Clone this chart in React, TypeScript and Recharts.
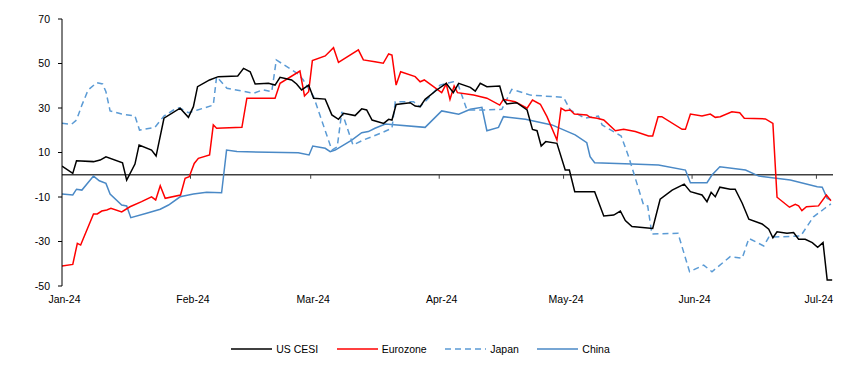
import React from "react";
import { LineChart, Line, XAxis, YAxis, ReferenceLine, Legend } from "recharts";

// x positions are days since 1 Jan 2024
const monthTicks = [0, 31, 60, 91, 121, 152, 182];
const monthLabels = ["Jan-24", "Feb-24", "Mar-24", "Apr-24", "May-24", "Jun-24", "Jul-24"];
const yTicks = [-50, -30, -10, 10, 30, 50, 70];

const usDays = [0, 2.6, 3.5, 7.6, 9.2, 10.6, 14.6, 15.6, 17.6, 18.6, 21.6, 22.7, 24.6, 28.5, 30.5, 31.7, 32.7, 35.6, 37.7, 42.4, 43.8, 45.4, 46.6, 49.8, 51.4, 52.6, 55.4, 56.6, 57.8, 59.5, 60.7, 63.5, 65.1, 66.7, 67.9, 70.7, 72.3, 73.5, 74.8, 77.6, 78.8, 79.6, 80.6, 84, 85.2, 86.4, 87.6, 90.4, 92.7, 94.4, 95.7, 98.5, 99.7, 100.9, 102.5, 105.6, 106.5, 107.3, 109.7, 112.2, 113.5, 114.6, 115.6, 116.7, 119.4, 121.4, 122.4, 123.7, 128.5, 130.7, 133.1, 134.7, 135.9, 137.5, 142.5, 144.3, 147.2, 150.1, 151.6, 154.4, 155.6, 156.6, 157.6, 158.7, 161.2, 162.4, 164.1, 165.7, 168.9, 170.5, 171.5, 172.5, 174.9, 176.5, 177.7, 179.3, 181, 182.3, 183.6, 184.6, 185.8];
const usValues = [3.9, 0.6, 6.3, 5.9, 6.6, 8.1, 5.4, -2.4, 4.8, 13.4, 11.1, 8.4, 25.4, 29.9, 25.8, 30.6, 39.6, 42.6, 44.1, 44.4, 47.8, 46.3, 40.8, 41.1, 40.3, 43.8, 42.6, 40.8, 38.1, 40.3, 34.4, 34.0, 26.9, 24.9, 27.6, 26.6, 29.6, 29.1, 24.6, 23.1, 24.9, 24.6, 31.6, 32.4, 30.9, 30.6, 33.9, 38.1, 41.1, 36.9, 41.1, 39.3, 37.6, 41.1, 39.6, 39.9, 33.9, 31.8, 32.4, 29.1, 20.4, 19.8, 12.9, 14.9, 14.1, 2.1, 2.1, -7.6, -7.6, -18.5, -18.1, -16.3, -20.6, -23.3, -24.1, -11.0, -6.9, -4.2, -7.6, -9.1, -12.1, -7.9, -9.9, -5.6, -6.5, -6.5, -12.8, -20.0, -22.1, -24.5, -28.3, -25.6, -26.3, -26.0, -29.0, -29.0, -30.5, -32.6, -30.5, -47.3, -47.3];

const euDays = [0, 2.6, 3.7, 4.5, 7.6, 8.5, 9.6, 10.8, 11.8, 14.4, 16.4, 19.2, 21.6, 22.6, 23.7, 24.9, 28.6, 29.7, 30.7, 31.9, 32.9, 35.6, 36.5, 37.3, 43.4, 44.6, 51.4, 52.6, 57.4, 58.5, 59.5, 60.4, 63.5, 65.5, 66.7, 71.5, 72.7, 75.5, 77.5, 78.8, 79.6, 80.6, 81.7, 85.2, 86.4, 87.4, 91.6, 92.7, 93.6, 94.6, 95.4, 99.3, 102.5, 105.6, 106.5, 109.3, 112.2, 113.5, 115.4, 117, 119.4, 120.4, 121.4, 122.6, 123.6, 126.6, 127.4, 129.1, 130.7, 133.5, 135.5, 138.3, 141.5, 142.5, 143.8, 144.7, 149.6, 150.4, 151.6, 154.4, 156.4, 157.6, 158.8, 161.6, 163.5, 164.6, 169.7, 171.5, 172.5, 175.5, 176.9, 177.7, 178.5, 179.6, 182.5, 184.4, 185.5];
const euValues = [-41.0, -40.3, -30.8, -31.6, -17.6, -17.6, -16.3, -15.8, -15.1, -16.7, -14.4, -12.1, -9.9, -11.3, -4.9, -10.6, -9.1, -1.6, -0.9, 5.1, 7.4, 8.9, 22.4, 20.9, 21.3, 34.4, 34.4, 41.1, 46.6, 35.4, 37.3, 51.3, 53.4, 57.1, 50.5, 56.1, 51.6, 50.8, 50.1, 54.3, 53.8, 40.3, 46.3, 44.1, 41.8, 42.6, 36.9, 40.8, 33.9, 39.9, 36.9, 35.8, 34.4, 31.3, 33.9, 32.8, 29.9, 33.6, 31.7, 26.1, 15.6, 29.9, 28.8, 29.1, 27.3, 26.9, 25.8, 25.4, 24.6, 19.8, 20.4, 19.4, 17.4, 17.4, 26.1, 26.1, 20.4, 20.4, 27.3, 26.4, 27.3, 25.8, 26.1, 28.3, 27.9, 25.4, 25.1, 23.1, -10.1, -14.6, -13.3, -14.0, -16.1, -14.4, -14.0, -9.1, -11.7];

const jpDays = [0, 2.3, 3.5, 4.8, 6.3, 8.4, 9.8, 10.6, 11.6, 14.4, 17.6, 18.7, 22.4, 24.6, 26.9, 28.3, 30.5, 32.7, 36.5, 37.3, 39.8, 46.2, 48.5, 50.6, 51.7, 57, 58.2, 60.7, 65.1, 66.4, 67.5, 70.2, 72.7, 76.8, 79.6, 80.4, 84.8, 86.4, 88.4, 91.2, 94.4, 95.6, 97.7, 102.1, 106.1, 108.5, 113, 121, 122.6, 126.2, 129.4, 130.3, 134.9, 136.7, 140.3, 141.3, 142.3, 148.6, 151.4, 154.8, 156.8, 161.2, 164.1, 165.7, 169.3, 170.5, 178.2, 181.3, 183.8, 185.5];
const jpValues = [23.1, 22.7, 24.6, 31.3, 38.1, 41.4, 40.8, 37.3, 28.7, 27.3, 26.4, 20.1, 21.3, 26.4, 29.1, 30.1, 27.9, 29.1, 31.3, 44.1, 38.9, 36.6, 38.2, 37.3, 51.6, 45.3, 42.6, 35.1, 11.1, 12.6, 28.3, 13.4, 15.6, 18.6, 20.9, 32.8, 32.8, 30.6, 34.4, 40.3, 41.8, 40.3, 29.1, 29.1, 29.4, 38.4, 35.8, 34.8, 29.1, 25.4, 26.4, 22.4, 17.4, 8.1, -13.6, -14.0, -26.6, -26.3, -43.6, -40.6, -43.6, -36.8, -37.5, -28.6, -32.0, -28.1, -27.5, -18.9, -15.4, -13.1];

const cnDays = [0, 2.6, 3.5, 4.8, 7.6, 9, 10.6, 11.6, 14.4, 15.6, 16.6, 20.4, 23.7, 25.7, 28.5, 31.7, 34.9, 38.5, 39.7, 42.2, 57, 59.6, 60.5, 63.5, 64.7, 65.9, 69.9, 72.3, 73.9, 75.5, 78, 87.6, 91.6, 95.7, 98.5, 101.3, 102.5, 105.3, 106.5, 111.8, 118.2, 123.8, 126.6, 127.4, 128.5, 137.5, 143.9, 150.4, 151.6, 155.6, 156.8, 158.7, 164.9, 168.1, 175.7, 182.2, 183.4, 184.6, 185.5];
const cnValues = [-8.7, -9.1, -6.5, -6.9, -0.6, -2.7, -3.9, -8.7, -13.6, -14.0, -19.3, -17.3, -15.5, -13.6, -9.9, -8.7, -7.9, -8.1, 11.1, 10.4, 9.9, 8.9, 12.9, 11.9, 10.4, 11.1, 15.6, 18.9, 19.4, 20.9, 22.8, 21.3, 28.7, 27.2, 29.4, 30.3, 19.8, 21.3, 26.1, 24.9, 22.4, 17.9, 14.4, 8.1, 5.4, 4.8, 4.4, 2.1, -3.6, -3.6, -0.1, 3.6, 2.1, -0.6, -2.4, -5.4, -5.6, -10.6, -11.3];

const toRows = (days: number[], vals: number[]) => days.map((d, i) => ({ d, v: vals[i] }));

const usData = toRows(usDays, usValues);
const euData = toRows(euDays, euValues);
const jpData = toRows(jpDays, jpValues);
const cnData = toRows(cnDays, cnValues);

const FONT = "'Liberation Sans', Arial, sans-serif";
const C_US = "#000000";
const C_EU = "#FF0000";
const C_JP = "#5B9BD5";
const C_CN = "#4A89C6";

const series = [
  { name: "US CESI", color: C_US, dash: undefined as string | undefined },
  { name: "Eurozone", color: C_EU, dash: undefined },
  { name: "Japan", color: C_JP, dash: "6 4" },
  { name: "China", color: C_CN, dash: undefined },
];

const XTick = (props: any) => {
  const { x, y, payload } = props;
  const idx = monthTicks.indexOf(payload.value);
  return (
    <text x={x + 2.5} y={y} dy="0.71em" textAnchor="middle" fontSize={10.5} fontFamily={FONT} fill="#000">
      {idx >= 0 ? monthLabels[idx] : ""}
    </text>
  );
};

const LegendContent = () => (
  <div style={{ display: "flex", justifyContent: "center", alignItems: "center", gap: 18.5, height: 30, fontFamily: FONT, fontSize: 10.5, color: "#000" }}>
    {series.map((s) => (
      <div key={s.name} style={{ display: "flex", alignItems: "center" }}>
        <svg width={41} height={4} style={{ marginRight: 4 }}>
          <line x1={0} y1={2} x2={41} y2={2} stroke={s.color} strokeWidth={1.5} strokeDasharray={s.dash} />
        </svg>
        <span>{s.name}</span>
      </div>
    ))}
  </div>
);

export default function App() {
  return (
    <div style={{ width: 844, height: 363 }}>
      <LineChart width={844} height={363} margin={{ top: 11, right: 19, left: 0, bottom: 7 }}>
        <XAxis
          type="number"
          dataKey="d"
          domain={[0, 186]}
          ticks={monthTicks}
          allowDataOverflow
          axisLine={false}
          tickLine={false}
          tickSize={6}
          tickMargin={4}
          height={48}
          tick={<XTick />}
          interval={0}
        />
        <YAxis
          type="number"
          domain={[-50, 70]}
          ticks={yTicks}
          width={54}
          axisLine={{ stroke: "#000", strokeWidth: 1 }}
          tickLine={{ stroke: "#000", strokeWidth: 1 }}
          tickSize={4}
          tickMargin={8}
          tick={{ fill: "#000", fontSize: 10.5, fontFamily: FONT }}
          interval={0}
        />
        <ReferenceLine y={0} stroke="#404040" strokeWidth={1.5} />
        {monthTicks.slice(1).map((t) => (
          <ReferenceLine
            key={t}
            segment={[{ x: t, y: 0 }, { x: t, y: -1.8 }]}
            stroke="#404040"
            strokeWidth={1}
          />
        ))}
        <Line data={cnData} dataKey="v" name="China" stroke={C_CN} strokeWidth={1.5} dot={false} isAnimationActive={false} />
        <Line data={jpData} dataKey="v" name="Japan" stroke={C_JP} strokeWidth={1.5} strokeDasharray="6 4" dot={false} isAnimationActive={false} />
        <Line data={euData} dataKey="v" name="Eurozone" stroke={C_EU} strokeWidth={1.5} dot={false} isAnimationActive={false} />
        <Line data={usData} dataKey="v" name="US CESI" stroke={C_US} strokeWidth={1.5} dot={false} isAnimationActive={false} />
        <Legend verticalAlign="bottom" height={30} content={<LegendContent />} />
      </LineChart>
    </div>
  );
}
